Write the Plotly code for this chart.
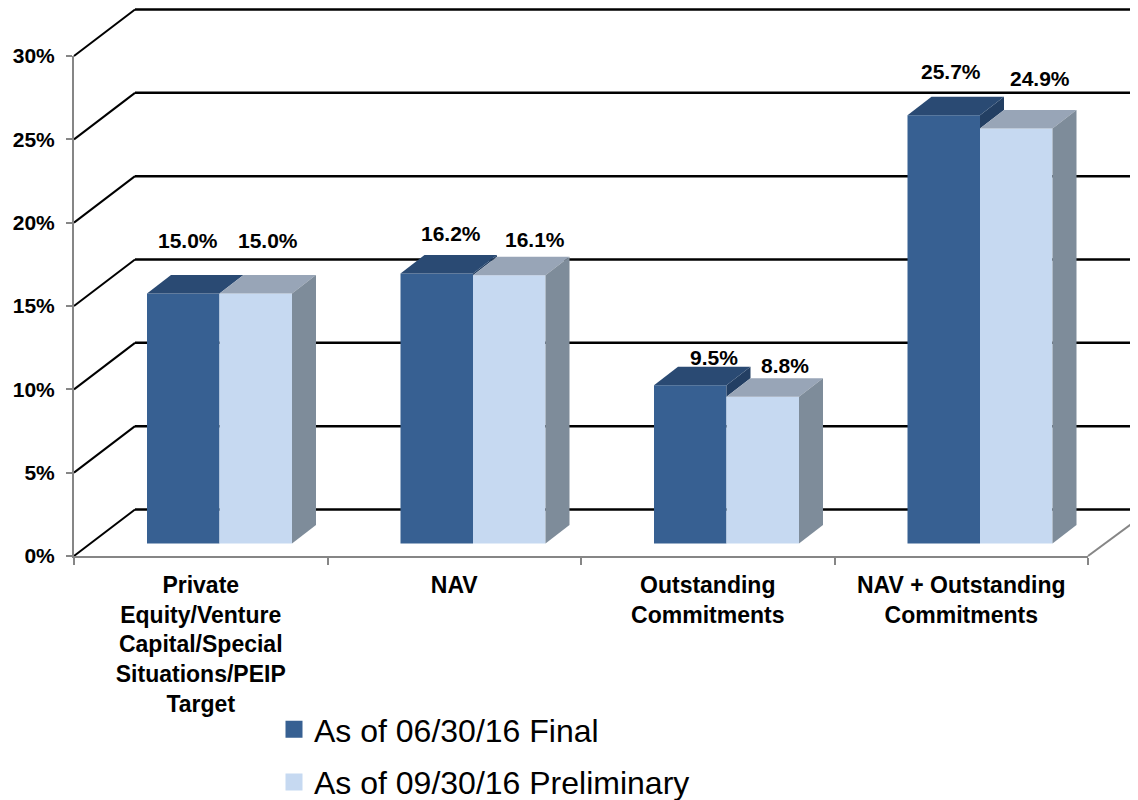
import plotly.graph_objects as go

categories = ["Private<br>Equity/Venture<br>Capital/Special<br>Situations/PEIP<br>Target", "NAV",
              "Outstanding<br>Commitments", "NAV + Outstanding<br>Commitments"]
series_a_name = "As of 06/30/16 Final"
series_b_name = "As of 09/30/16 Preliminary"
series_a = [15.0, 16.2, 9.5, 25.7]
series_b = [15.0, 16.1, 8.8, 24.9]
y_ticks = [0, 5, 10, 15, 20, 25, 30]
y_tick_labels = ["0%", "5%", "10%", "15%", "20%", "25%", "30%"]

# label nudges in pixels (x, up)
label_shift_a = [(5, 53.5), (14.5, 40.5), (24, 27.2), (7.5, 43.2)]
label_shift_b = [(12.5, 53.5), (26, 35.2), (22.5, 31.8), (24, 50.5)]

# the page body adds 8px on the left and top
W, H = 1130, 792
L, R, T, B = 66, 50, 48, 244
PW, PH = W - L - R, H - T - B
PX_X = 4 / PW      # category units per pixel
PX_Y = 30 / PH     # value units per pixel

BASE = 12.5 * PX_Y
BW = 72.5 * PX_X
OFF_A = (147 - 200.75) * PX_X
OFF_B = OFF_A + BW
DX = 24 * PX_X
DY = 18.5 * PX_Y

C_A, C_A_TOP, C_A_SIDE = "#376092", "#2A4A73", "#233F63"
C_B, C_B_TOP, C_B_SIDE = "#C6D9F1", "#98A5B7", "#7E8C9A"
AXIS = "#868686"
FONT = "Liberation Sans"


def poly(xs, ys, color):
    return go.Scatter(x=xs, y=ys, mode="lines", fill="toself", fillcolor=color,
                      line=dict(width=0, color=color), showlegend=False,
                      hoverinfo="skip", cliponaxis=False)


fig = go.Figure()
xs = list(range(len(categories)))

fig.add_trace(go.Bar(x=xs, y=series_a, base=BASE, width=BW, offset=OFF_A, marker=dict(color=C_A, line=dict(width=0)),
                     showlegend=False, name=series_a_name))
fig.add_trace(go.Bar(x=xs, y=series_b, base=BASE, width=BW, offset=OFF_B, marker=dict(color=C_B, line=dict(width=0)),
                     showlegend=False, name=series_b_name))

for i, (a, b) in enumerate(zip(series_a, series_b)):
    ta, tb = a + BASE, b + BASE
    xa0 = i + OFF_A
    xa1 = xa0 + BW
    xb1 = xa1 + BW
    # first series: top face and the part of its side above the second series
    fig.add_trace(poly([xa1, xa1 + DX, xa1 + DX, xa1], [ta, ta + DY, tb + DY, tb], C_A_SIDE))
    fig.add_trace(poly([xa0, xa0 + DX, xa1 + DX, xa1], [ta, ta + DY, ta + DY, ta], C_A_TOP))
    # second series: top face and side
    fig.add_trace(poly([xa1, xa1 + DX, xb1 + DX, xb1], [tb, tb + DY, tb + DY, tb], C_B_TOP))
    fig.add_trace(poly([xb1, xb1 + DX, xb1 + DX, xb1], [tb, tb + DY, BASE + DY, BASE], C_B_SIDE))

# legend entries (bar swatch enlarged by its outline)
for name, color in [(series_a_name, C_A), (series_b_name, C_B)]:
    fig.add_trace(go.Bar(x=[None], y=[None], name=name, legendgroup=name,
                         marker=dict(color=color, line=dict(width=5, color=color))))

# perspective walls, in paper fractions derived from the value scale
shapes = []
BX, BY = 61 / PW, 46.5 / PH
RIGHT = (PW + R) / PW
for v in y_ticks:
    f = v / 30
    shapes.append(dict(type="line", xref="paper", yref="paper", layer="below",
                       x0=0, y0=f, x1=BX, y1=f + BY, line=dict(color="black", width=2)))
    shapes.append(dict(type="line", xref="paper", yref="paper", layer="below",
                       x0=BX, y0=f + BY, x1=RIGHT, y1=f + BY, line=dict(color="black", width=2.5)))
shapes.append(dict(type="line", xref="paper", yref="paper", layer="below",
                   x0=1, y0=0, x1=RIGHT, y1=37 / PH, line=dict(color=AXIS, width=2)))

annotations = []
for i in xs:
    for vals, off, shift in [(series_a, OFF_A, label_shift_a), (series_b, OFF_B, label_shift_b)]:
        annotations.append(dict(x=i + off + BW / 2, y=vals[i] + BASE, xref="x", yref="y",
                                text=f"{vals[i]:.1f}%", showarrow=False, xanchor="center", yanchor="middle",
                                xshift=shift[i][0], yshift=shift[i][1],
                                font=dict(family=FONT, size=21, color="black", weight=700)))

fig.update_layout(
    width=W, height=H, margin=dict(l=L, r=R, t=T, b=B, pad=0, autoexpand=False),
    paper_bgcolor="white", plot_bgcolor="rgba(0,0,0,0)",
    barmode="overlay", shapes=shapes, annotations=annotations,
    font=dict(family=FONT, color="black"),
    xaxis=dict(range=[-0.5, 3.5], tickmode="array", tickvals=xs, ticktext=categories, ticks="",
               showgrid=False, zeroline=False, showline=True, linecolor=AXIS, linewidth=2,
               tickangle=0, tickfont=dict(family=FONT, size=23, color="black", weight=700),
               ticklabelstandoff=7,
               minor=dict(tickmode="array", tickvals=[-0.5, 0.5, 1.5, 2.5, 3.5], ticks="outside",
                          ticklen=7, tickwidth=2, tickcolor=AXIS, showgrid=False)),
    yaxis=dict(range=[0, 30], tickmode="array", tickvals=y_ticks, ticktext=y_tick_labels, ticks="outside",
               ticklen=6, tickwidth=2, tickcolor=AXIS, showgrid=False, zeroline=False,
               showline=True, linecolor=AXIS, linewidth=2, ticklabelstandoff=7,
               tickfont=dict(family=FONT, size=21, color="black", weight=700)),
    legend=dict(x=(266 - L) / PW, y=-(694 - (H - B)) / PH, xanchor="left", yanchor="top",
                font=dict(family=FONT, size=32, color="black"), tracegroupgap=8,
                bgcolor="rgba(0,0,0,0)", traceorder="grouped"),
)

fig.write_html("out.html")
